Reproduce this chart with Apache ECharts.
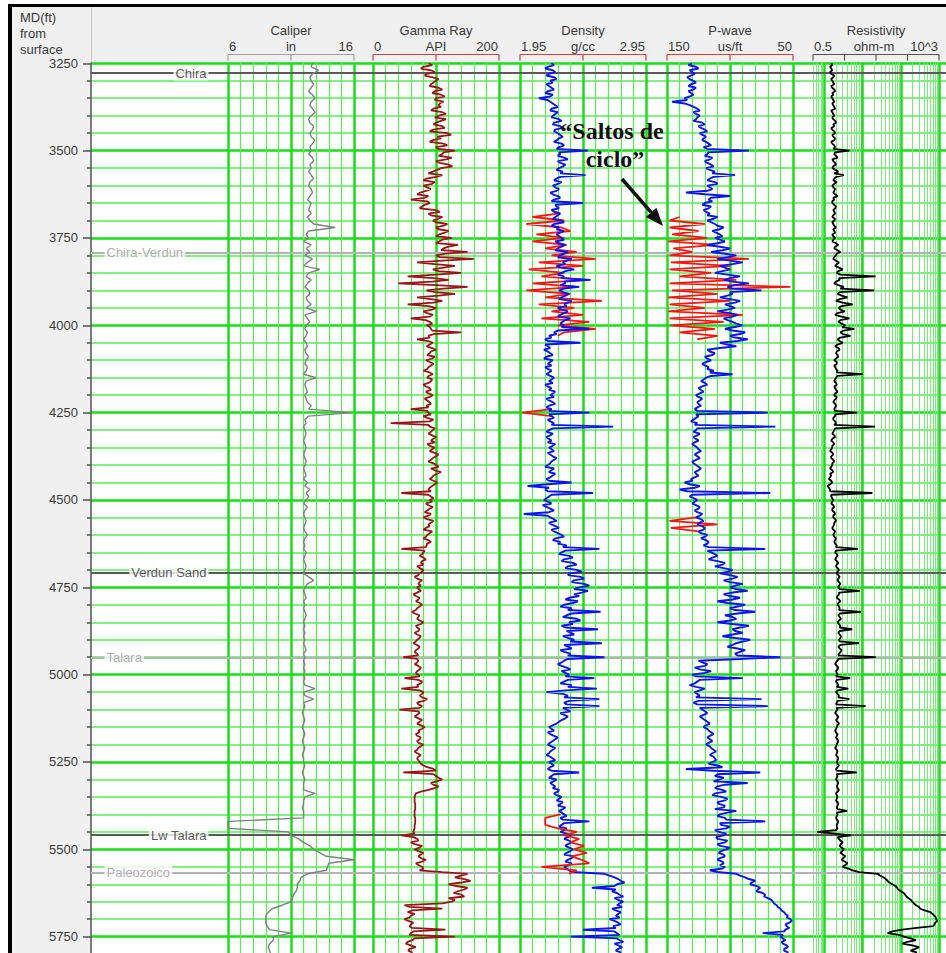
<!DOCTYPE html>
<html>
<head>
<meta charset="utf-8">
<title>Well log – MD 3250–5800 ft</title>
<script src="https://cdn.jsdelivr.net/npm/echarts@6/dist/echarts.min.js"></script>
<style>
  html, body { margin: 0; padding: 0; background: #fff; overflow: hidden; }
  /* the depth scale runs on to 6000 ft; the page shows down to ~5800 ft */
  #chart { width: 946px; height: 1024px; }
</style>
</head>
<body>
<div id="chart"></div>
<script>
// ---------------- depth sampling ----------------
const DEPTH_START = 3250;   // ft, first sample
const BLOCK_FT = 250;       // each row of a logged curve covers 250 ft
const LOG_STEP = 5;         // ft between samples of gamma / density / P-wave / resistivity
const CAL_STEP = 10;        // ft between caliper samples and raw-curve samples

// ---------------- caliper, in (every 10 ft) ----------------
const caliper = [
  12.7,12.6,13.2,12.7,12.5,12.6,12.8,12.6,12.4,12.7,12.9,12.6,12.5,12.7,12.9,12.6,12.4,12.5,12.8,12.7,12.5,12.6,12.9,12.7,12.5,
  12.6,12.4,12.7,12.8,12.5,12.6,12.4,12.6,12.8,12.5,12.4,12.6,12.7,12.5,12.3,12.6,12.5,12.4,12.6,12.3,12.5,12.8,14.5,12.4,12.2,
  12.4,12.0,12.6,12.2,12.5,12.1,12.7,12.3,12.0,13.3,12.4,12.2,12.6,12.3,12.1,12.4,12.5,12.2,12.3,12.6,12.2,13.0,12.1,12.3,12.5,
  12.2,12.1,12.3,12.2,12.0,12.2,12.3,12.1,12.2,12.4,12.2,12.1,12.3,12.2,12.0,13.0,12.2,12.1,12.2,12.3,12.1,12.2,12.3,12.6,12.4,
  15.8,12.4,12.1,12.2,12.0,12.1,12.2,12.1,12.0,12.1,12.2,12.1,12.0,12.1,12.2,12.1,12.0,12.1,12.2,12.0,12.3,12.1,12.5,12.2,12.4,
  12.2,12.0,12.3,12.1,12.0,12.1,12.2,12.1,12.0,12.1,12.3,12.1,12.0,12.1,12.0,12.2,12.1,12.0,12.1,12.2,12.1,12.0,12.4,12.8,12.3,
  12.1,12.0,12.1,12.2,12.0,12.1,12.0,12.1,12.2,12.1,12.0,12.1,12.0,12.1,12.0,12.1,12.0,12.1,12.2,12.0,12.1,12.0,12.1,12.0,12.1,
  12.0,12.1,12.0,12.1,12.9,12.0,12.1,12.8,12.0,12.1,12.0,11.9,12.0,12.1,12.0,11.9,12.0,12.1,12.0,11.9,12.0,12.1,12.0,11.9,12.0,
  12.0,12.1,12.0,11.9,12.0,12.1,12.0,12.0,12.0,12.9,12.1,12.0,12.0,11.9,12.0,12.0,12.0,6.0,6.0,6.0,10.8,11.0,11.6,12.0,12.5,
  12.8,13.3,13.8,16.0,14.0,13.9,13.8,12.3,11.8,11.7,11.5,11.5,11.4,11.2,11.1,11.0,10.3,9.5,9.2,9.0,9.0,9.0,9.1,9.3,11.0,
  9.6,9.6,9.3,9.2,9.3,9.4
];

// ---------------- gamma ray, API (rows of 250 ft, every 5 ft) ----------------
const gammaRay = [
  [88,94,80,76,92,98,86,82,95,104,100,96,92,90,104,110,98,94,108,114,100,98,112,106,104,108,96,92,110,116,104,98,116,108,100,96,110,114,96,90,118,124,102,108,95,90,112,118,100,104],
  [130,112,110,104,125,116,100,106,120,126,108,102,95,88,110,100,85,80,98,94,80,86,92,84,75,70,88,82,60,86,90,82,78,74,100,106,88,92,110,104,95,100,118,112,100,104,120,114,105,100],
  [125,110,105,100,135,120,112,108,150,115,100,106,160,110,70,98,130,112,95,104,140,100,55,96,120,94,40,100,150,112,85,98,130,104,70,92,110,96,55,88,100,94,80,86,95,90,60,84,90,94],
  [85,90,92,94,140,96,88,90,70,88,95,90,85,94,100,92,90,86,98,94,84,90,96,92,88,86,80,90,95,88,86,94,92,88,80,84,90,92,84,88,95,90,82,86,90,92,85,88,60,86],
  [88,92,80,86,96,90,28,88,90,98,95,92,88,94,100,96,92,98,86,90,98,94,90,98,104,100,95,92,88,96,100,104,92,98,108,102,96,94,90,96,102,98,94,90,88,92,45,88,92,96],
  [90,94,84,88,95,90,86,82,92,88,80,86,96,92,88,90,84,80,94,90,86,84,80,88,92,86,85,84,45,82,80,78,74,80,84,78,76,80,70,74,80,78,74,72,66,70,78,74,72,76],
  [70,72,76,70,64,68,74,72,68,74,78,74,70,68,62,66,74,72,70,74,80,76,68,70,74,72,66,70,76,74,70,68,64,70,74,72,68,66,70,72,48,70,72,70,66,72,76,74,70,68],
  [72,74,50,72,78,76,70,72,45,74,80,78,74,78,86,80,70,72,78,74,42,72,74,70,66,72,78,74,70,76,82,78,72,74,68,70,76,74,70,72,80,76,72,70,66,70,76,72,70,72],
  [74,76,80,86,96,100,48,96,100,104,110,102,92,96,104,98,88,76,68,67,66,66,66,66,67,67,67,67,66,66,66,66,67,67,67,67,66,66,66,65,64,66,45,64,70,72,60,66,78,74],
  [66,72,80,76,72,76,84,78,68,72,78,80,74,110,150,140,130,145,155,140,120,132,150,145,135,128,140,145,120,130,125,110,50,58,110,62,55,66,60,58,50,56,64,60,58,62,115,64,60,58],
  [130,66,62,55,52,60,68,58,56,62,60]
];

// ---------------- bulk density, g/cc (rows of 250 ft, every 5 ft) ----------------
const density = [
  [2.20,2.22,2.17,2.15,2.21,2.23,2.18,2.16,2.22,2.24,2.19,2.21,2.16,2.18,2.20,2.22,2.17,2.15,2.21,2.19,2.10,2.17,2.19,2.21,2.23,2.25,2.20,2.19,2.25,2.23,2.21,2.20,2.26,2.28,2.22,2.21,2.27,2.29,2.23,2.22,2.25,2.27,2.29,2.26,2.24,2.22,2.28,2.30,2.26,2.24],
  [2.49,2.26,2.27,2.25,2.30,2.33,2.25,2.27,2.31,2.29,2.26,2.24,2.29,2.27,2.47,2.27,2.24,2.22,2.28,2.25,2.21,2.23,2.26,2.24,2.19,2.21,2.25,2.27,2.22,2.20,2.45,2.23,2.24,2.26,2.20,2.22,2.27,2.25,2.23,2.21,2.28,2.30,2.22,2.20,2.26,2.24,2.30,2.27,2.24,2.26],
  [2.28,2.30,2.23,2.26,2.31,2.28,2.25,2.23,2.33,2.30,2.27,2.25,2.36,2.32,2.29,2.31,2.24,2.27,2.38,2.31,2.28,2.25,2.30,2.28,2.51,2.30,2.31,2.27,2.42,2.30,2.26,2.29,2.34,2.31,2.28,2.26,2.36,2.33,2.30,2.32,2.25,2.28,2.33,2.30,2.27,2.25,2.35,2.31,2.29,2.27],
  [2.30,2.28,2.50,2.25,2.22,2.24,2.18,2.20,2.15,2.17,2.43,2.15,2.17,2.19,2.14,2.17,2.19,2.21,2.16,2.14,2.21,2.19,2.17,2.20,2.15,2.17,2.20,2.18,2.16,2.19,2.22,2.20,2.18,2.21,2.15,2.17,2.20,2.18,2.23,2.21,2.19,2.22,2.16,2.18,2.21,2.23,2.18,2.16,2.20,2.18],
  [2.50,2.18,2.20,2.22,2.17,2.19,2.22,2.20,2.69,2.21,2.18,2.16,2.21,2.19,2.16,2.18,2.20,2.17,2.23,2.21,2.18,2.20,2.22,2.17,2.19,2.21,2.24,2.22,2.20,2.19,2.17,2.15,2.22,2.20,2.18,2.23,2.21,2.19,2.16,2.18,2.36,2.17,2.01,2.18,2.15,2.17,2.53,2.20,2.18,2.16],
  [2.14,2.17,2.20,2.13,2.16,2.19,2.22,2.18,1.98,2.17,2.19,2.22,2.24,2.18,2.20,2.23,2.26,2.20,2.22,2.25,2.28,2.30,2.23,2.21,2.27,2.25,2.32,2.29,2.58,2.31,2.28,2.26,2.34,2.37,2.30,2.28,2.37,2.40,2.33,2.31,2.40,2.44,2.35,2.33,2.43,2.46,2.38,2.36,2.46,2.50],
  [2.42,2.38,2.49,2.44,2.38,2.42,2.34,2.31,2.41,2.37,2.30,2.27,2.36,2.33,2.59,2.36,2.32,2.29,2.40,2.43,2.34,2.37,2.28,2.31,2.57,2.32,2.35,2.38,2.29,2.33,2.38,2.35,2.60,2.30,2.33,2.36,2.27,2.30,2.35,2.33,2.62,2.33,2.30,2.28,2.25,2.28,2.32,2.35,2.28,2.31],
  [2.34,2.31,2.54,2.33,2.30,2.27,2.36,2.33,2.56,2.31,2.16,2.29,2.33,2.30,2.58,2.34,2.30,2.32,2.58,2.29,2.32,2.35,2.27,2.30,2.33,2.31,2.28,2.26,2.24,2.21,2.18,2.20,2.22,2.17,2.19,2.22,2.25,2.23,2.21,2.19,2.17,2.20,2.23,2.21,2.19,2.18,2.16,2.19,2.21,2.23],
  [2.18,2.20,2.22,2.19,2.17,2.20,2.42,2.22,2.20,2.18,2.24,2.22,2.19,2.21,2.23,2.21,2.26,2.25,2.22,2.24,2.28,2.26,2.24,2.29,2.27,2.25,2.31,2.29,2.26,2.28,2.30,2.32,2.27,2.29,2.50,2.30,2.28,2.26,2.32,2.30,2.27,2.32,2.35,2.33,2.30,2.34,2.36,2.33,2.31,2.34],
  [2.37,2.35,2.32,2.30,2.38,2.36,2.33,2.31,2.36,2.34,2.30,2.32,2.34,2.36,2.62,2.66,2.70,2.73,2.75,2.78,2.72,2.70,2.52,2.71,2.68,2.72,2.74,2.77,2.70,2.73,2.77,2.74,2.72,2.76,2.68,2.71,2.75,2.73,2.71,2.74,2.66,2.70,2.73,2.75,2.69,2.71,2.45,2.70,2.72,2.74],
  [2.35,2.72,2.74,2.77,2.70,2.73,2.76,2.73,2.71,2.75,2.73]
];
// raw (uncorrected) density intervals, g/cc, every 10 ft
const densityRawA_start = 3680;
const densityRawA = [2.25,2.05,2.30,2.00,2.28,2.35,2.08,2.30,2.05,2.32,2.15,2.40,2.20,2.55,2.10,2.45,2.02,2.30,
                     2.12,2.48,2.05,2.40,2.00,2.35,2.15,2.60,2.10,2.38,2.20,2.45,2.12,2.50,2.25,2.55,2.30,2.25];
const densityRawB_start = 4240;
const densityRawB = [2.20,1.97,2.20];
const densityRawC_start = 5400;
const densityRawC = [2.27,2.15,2.15,2.15,2.25,2.40,2.30,2.42,2.35,2.46,2.38,2.48,2.36,2.44,2.50,2.12,2.40,2.34];

// ---------------- P-wave slowness, us/ft (rows of 250 ft, every 5 ft) ----------------
const pWave = [
  [130,133,127,125,132,130,128,131,134,132,129,127,131,133,127,129,133,131,129,132,136,134,146,136,132,129,126,124,129,127,124,126,127,129,122,120,125,123,120,118,124,122,119,121,122,119,117,115,121,118],
  [85,117,118,120,114,116,120,118,115,113,119,116,112,114,96,113,116,118,112,110,118,116,114,118,135,120,100,115,117,114,120,122,115,117,121,119,116,118,110,113,118,115,112,110,105,108,114,111,108,106],
  [112,108,104,110,118,108,100,106,115,104,95,102,110,100,90,98,108,104,100,106,112,102,92,100,105,98,85,96,102,98,75,100,98,102,108,100,92,96,104,100,96,102,110,100,94,98,105,102,98,95],
  [90,96,104,98,88,92,100,96,86,94,108,102,95,108,118,116,112,114,120,118,115,119,122,120,117,118,113,116,98,115,119,121,123,120,118,122,125,123,121,124,127,125,122,124,126,125,123,126,128,126],
  [70,127,125,127,129,131,126,128,64,126,127,129,124,126,129,127,125,128,130,128,126,125,123,126,128,126,124,127,130,129,127,125,123,125,128,127,125,128,131,130,136,132,124,128,140,134,68,130,132,129],
  [126,128,130,127,124,125,128,126,122,124,127,123,121,124,126,122,120,121,125,123,118,120,123,119,117,118,121,117,72,118,115,112,110,114,117,110,104,106,112,105,98,102,108,100,94,98,105,100,90,96],
  [100,95,86,98,105,100,92,98,110,102,88,94,100,96,80,94,104,98,95,100,110,98,85,92,98,96,90,98,106,96,84,90,95,98,102,94,88,92,96,94,60,92,125,122,118,120,128,124,115,120],
  [130,127,90,124,126,128,132,127,120,124,128,126,124,127,75,125,129,126,70,124,122,120,118,121,124,122,120,118,116,119,121,118,117,115,113,116,118,116,114,117,119,116,115,113,111,114,116,113,112,111],
  [114,117,110,106,135,113,76,110,112,105,108,113,86,104,110,112,106,103,112,114,107,102,104,110,109,104,105,112,95,102,108,110,104,103,72,108,107,100,103,112,109,103,105,111,110,102,104,110,108,100],
  [103,107,109,105,104,108,110,106,105,108,104,106,116,110,95,92,88,85,80,83,84,79,76,78,79,74,72,73,70,67,66,65,63,62,60,59,57,56,54,55,52,51,53,56,55,53,56,57,74,58],
  [60,58,56,59,58,55,54,57,57,54,55]
];
// raw P-wave intervals with cycle skips, us/ft, every 10 ft
const pWaveRawA_start = 3690;
const pWaveRawA = [140,148,120,148,125,146,118,149,112,145,130,148,85,147,100,148,115,140,
                   95,148,52,146,110,149,100,148,120,149,90,148,105,147,112,140,110,126];
const pWaveRawB_start = 4550;
const pWaveRawB = [127,148,110,147,125];

// ---------------- resistivity, ohm-m (rows of 250 ft, every 5 ft) ----------------
const resistivity = [
  [1.5,1.6,1.4,1.5,1.6,1.4,1.5,1.8,1.7,1.5,1.6,1.7,1.8,1.5,1.6,1.8,1.9,1.6,1.7,1.5,1.6,1.7,1.8,1.6,1.7,1.8,1.9,1.5,1.6,1.7,1.8,1.6,1.7,1.9,2.0,1.7,1.8,1.5,1.6,1.8,1.9,1.6,1.7,1.9,1.8,1.5,1.6,1.8,1.9,1.7],
  [4.5,1.9,1.8,2.0,2.2,1.6,1.7,1.9,2.0,1.7,1.6,1.9,2.3,1.8,3.2,2.0,1.8,1.7,2.1,1.8,1.6,1.7,1.9,1.8,1.7,1.9,2.2,1.7,1.8,1.6,1.6,1.8,2.0,1.9,1.7,1.8,1.9,1.7,1.6,1.9,1.8,1.6,1.7,1.8,2.0,1.7,1.8,1.9,1.6,1.7],
  [1.9,1.7,1.6,2.0,2.3,1.9,1.8,2.2,2.6,2.1,2.0,1.8,1.7,2.0,2.4,2.1,1.9,2.4,3.0,2.3,2.1,2.6,22,2.4,2.5,2.0,1.8,2.3,3.2,2.6,20,2.5,2.2,2.8,4.0,2.5,2.0,3.0,5.5,2.8,2.4,2.6,3.4,2.2,1.9,2.8,4.5,2.6,2.3,2.8],
  [3.5,2.9,6.0,3.2,2.6,3.0,4.8,2.6,2.2,2.5,3.0,2.2,1.9,2.3,2.5,2.1,2.0,2.2,2.3,2.0,1.8,2.1,2.1,1.8,1.9,2.0,2.2,2.1,10,2.2,2.0,1.9,1.8,2.0,2.1,1.8,1.9,2.0,2.2,1.9,1.8,2.1,2.0,1.8,1.7,1.9,2.0,1.9,1.8,1.9],
  [7.1,1.9,1.9,1.7,1.7,1.9,2.0,1.8,21,1.9,1.8,1.7,1.6,1.8,1.9,1.6,1.5,1.7,1.8,1.6,1.6,1.5,1.4,1.6,1.7,1.5,1.5,1.7,1.8,1.6,1.6,1.5,1.4,1.6,1.7,1.4,1.5,1.4,1.3,1.5,1.6,1.4,1.2,1.3,1.4,1.4,18,1.5,1.5,1.6],
  [1.7,1.6,1.5,1.7,1.8,1.6,1.6,1.8,1.9,1.7,1.7,1.9,2.0,1.8,1.8,1.7,1.6,1.7,1.9,1.8,1.7,1.8,2.0,1.9,1.8,1.9,2.1,2.0,7.5,2.0,1.9,2.1,2.2,2.0,1.9,2.1,2.3,2.1,2.0,2.2,2.4,2.2,2.1,2.3,2.5,2.3,2.2,2.4,2.6,2.4],
  [2.3,2.5,8.5,2.4,2.4,2.2,2.1,2.4,2.6,2.3,2.2,2.4,2.5,2.4,9.0,2.5,2.3,2.5,2.7,2.4,2.2,2.4,2.6,2.5,5.3,2.5,2.3,2.5,2.7,2.6,2.4,2.5,8.0,2.6,2.3,2.5,2.8,2.6,2.4,2.3,22,2.3,2.2,2.0,1.9,2.1,2.3,2.2,2.0,2.1],
  [2.2,2.0,4.7,2.1,2.0,2.2,2.3,2.1,4.2,2.2,2.0,2.2,2.4,2.3,4.5,2.2,2.1,2.0,12,2.1,2.2,2.0,1.9,2.1,2.3,2.2,2.0,2.2,2.4,2.2,2.1,2.0,1.9,2.0,2.2,2.1,2.0,2.2,2.3,2.2,2.1,2.0,1.9,2.1,2.2,2.1,2.0,2.2,2.3,2.2],
  [2.1,2.2,2.4,2.2,2.0,2.1,7.0,2.1,2.2,2.1,2.0,2.2,2.3,2.2,2.1,2.2,2.4,2.2,2.0,2.1,2.2,2.1,2.0,2.2,2.3,2.2,2.1,2.2,3.9,2.1,2.2,2.1,2.0,2.1,2.3,2.2,2.1,2.1,2.2,2.0,0.65,1.9,5.0,2.2,2.4,2.6,3.0,2.7,2.5,2.8],
  [3.2,2.9,2.6,3.0,3.5,3.1,2.8,3.4,4.0,3.5,3.0,4.2,5.5,8,25,28,35,40,45,50,60,72,80,85,100,120,130,140,160,185,200,220,250,300,320,420,600,680,750,820,850,900,800,760,700,260,110,60,45,90],
  [120,180,250,150,110,200,300,240,180,260,220]
];

// ---------------- formation tops ----------------
const topNames  = ['Chira', 'Chira-Verdun', 'Verdun Sand', 'Talara', 'Lw Talara', 'Paleozoico'];
const topDepths = [3278, 3793, 4708, 4951, 5459, 5567];
const topIsMain = [true, false, true, false, true, false];

// ---------------- track scales / header text ----------------
const trackTitles = ['Caliper', 'Gamma Ray', 'Density', 'P-wave', 'Resistivity'];
const trackUnits  = ['in', 'API', 'g/cc', 'us/ft', 'ohm-m'];
const trackLeftValues  = [6, 0, 1.95, 150, 0.5];
const trackRightValues = [16, 200, 2.95, 50, 1000];
const trackLeftLabels  = ['6', '0', '1.95', '150', '0.5'];
const trackRightLabels = ['16', '200', '2.95', '50', '10^3'];
const depthHeader = ['MD(ft)', 'from', 'surface'];
const noteText = ['\u201CSaltos de', 'ciclo\u201D'];

// ---------------- layout ----------------
const FONT = '"Liberation Sans", Arial, sans-serif';
const GRID_TOP = 63.3;
const GRID_BOTTOM = 0;
const TRACK_LEFT = [228, 373, 520, 667, 813];
const TRACK_WIDTH = 126;
const GREEN_MAJOR = '#19de19';
const GREEN_MINOR = '#5de85d';
const GREEN_LOG = '#78ec78';
const BRACKET_COLORS = ['#a0a0a0', '#c84040', '#e03a3a', '#e03a3a', '#555555'];

// flat list sampled every `step` ft from `start`
const toPairs = (values, start, step) => values.map((v, i) => [v, start + i * step]);
// rows of BLOCK_FT, each sampled every LOG_STEP ft
const rowsToPairs = rows => rows.flatMap((row, b) =>
  row.map((v, i) => [v, DEPTH_START + b * BLOCK_FT + i * LOG_STEP]));

function linearGridValues(a, b) {
  const lo = Math.min(a, b), hi = Math.max(a, b), out = [];
  for (let k = 0; k <= 10; k++) out.push({ v: lo + (hi - lo) * k / 10, major: k % 5 === 0 });
  return out;
}
function logGridValues(lo, hi) {
  const out = [];
  for (let e = -1; e <= 3; e++) {
    for (let m = 1; m <= 9; m++) {
      const v = +(m * Math.pow(10, e)).toPrecision(6);
      if (v >= lo - 1e-9 && v <= hi + 1e-9) out.push({ v, major: m === 1 });
    }
  }
  return out;
}

const grids = [{ left: 91, right: 0, top: GRID_TOP, bottom: GRID_BOTTOM }]
  .concat(TRACK_LEFT.map(l => ({ left: l, width: TRACK_WIDTH, top: GRID_TOP, bottom: GRID_BOTTOM })));

const xAxes = [
  { gridIndex: 0, type: 'value', min: 0, max: 1, show: false },
  { gridIndex: 1, type: 'value', min: 6, max: 16, show: false },
  { gridIndex: 2, type: 'value', min: 0, max: 200, show: false },
  { gridIndex: 3, type: 'value', min: 1.95, max: 2.95, show: false },
  { gridIndex: 4, type: 'value', min: 50, max: 150, inverse: true, show: false },
  { gridIndex: 5, type: 'log', logBase: 10, min: 0.5, max: 1000, show: false }
];

const yAxes = [{
  gridIndex: 0, type: 'value', inverse: true, min: 3250, max: 6000, interval: 250,
  axisLine: { show: true, lineStyle: { color: '#555', width: 1.5 } },
  axisTick: { show: true, length: 8, lineStyle: { color: '#555', width: 1.5 } },
  minorTick: { show: true, splitNumber: 5, length: 4, lineStyle: { color: '#555', width: 1.5 } },
  axisLabel: { show: true, margin: 13, color: '#3a3a3a', fontSize: 13, fontFamily: FONT,
               showMaxLabel: false, formatter: v => (v > 5800 ? '' : String(v)) },
  splitLine: { show: true, lineStyle: { color: GREEN_MAJOR, width: 2.5 } },
  minorSplitLine: { show: true, lineStyle: { color: GREEN_MINOR, width: 1.5 } }
}].concat([1, 2, 3, 4, 5].map(g => ({
  gridIndex: g, type: 'value', inverse: true, min: 3250, max: 6000, show: false
})));

const series = [];

// vertical grid lines of each track
[
  linearGridValues(6, 16), linearGridValues(0, 200), linearGridValues(1.95, 2.95),
  linearGridValues(50, 150), logGridValues(0.5, 1000)
].forEach((vals, i) => {
  const isLog = i === 4;
  series.push({
    type: 'line', xAxisIndex: i + 1, yAxisIndex: i + 1, data: [], z: 1, silent: true,
    markLine: {
      silent: true, symbol: ['none', 'none'], label: { show: false }, z: 1, animation: false,
      data: vals.map(g => ({
        xAxis: g.v,
        lineStyle: {
          type: 'solid',
          color: g.major ? GREEN_MAJOR : (isLog ? GREEN_LOG : GREEN_MINOR),
          width: g.major ? 2.5 : (isLog ? 1 : 1.3)
        }
      }))
    }
  });
});

// formation top lines across the whole panel
series.push({
  type: 'line', xAxisIndex: 0, yAxisIndex: 0, data: [], z: 2, silent: true,
  markLine: {
    silent: true, symbol: ['none', 'none'], label: { show: false }, z: 2, animation: false,
    data: topDepths.map((d, i) => ({
      yAxis: d,
      lineStyle: { type: 'solid', width: 2, color: topIsMain[i] ? '#5a5a5a' : '#b4b4b4' }
    }))
  }
});

// curves
const curve = (xi, data, color, width, z) => ({
  type: 'line', xAxisIndex: xi, yAxisIndex: xi, data, symbol: 'none', silent: true,
  lineStyle: { color, width }, z, clip: true, animation: false
});
series.push(curve(1, toPairs(caliper, DEPTH_START, CAL_STEP), '#808080', 1.4, 3));
series.push(curve(2, rowsToPairs(gammaRay), '#9c1418', 1.8, 3));
series.push(curve(3, toPairs(densityRawA, densityRawA_start, CAL_STEP), '#ff1414', 1.8, 3));
series.push(curve(3, toPairs(densityRawB, densityRawB_start, CAL_STEP), '#ff1414', 1.8, 3));
series.push(curve(3, rowsToPairs(density), '#0a14f0', 1.9, 4));
series.push(curve(3, toPairs(densityRawC, densityRawC_start, CAL_STEP), '#ff1414', 1.8, 5));
series.push(curve(4, toPairs(pWaveRawA, pWaveRawA_start, CAL_STEP), '#ff1414', 1.8, 3));
series.push(curve(4, toPairs(pWaveRawB, pWaveRawB_start, CAL_STEP), '#ff1414', 1.8, 3));
series.push(curve(4, rowsToPairs(pWave), '#0a14f0', 1.9, 4));
series.push(curve(5, rowsToPairs(resistivity), '#000000', 1.8, 3));

// formation names on the depth track
const LABEL_MAIN_X = (209 - 91) / 855;   // right edge of dark labels
const LABEL_SUB_X = (104 - 91) / 855;    // left edge of light labels
series.push({
  type: 'scatter', xAxisIndex: 0, yAxisIndex: 0, z: 6, silent: true, symbolSize: 1,
  itemStyle: { color: 'rgba(0,0,0,0)' },
  data: topDepths.map((d, i) => ({
    value: [topIsMain[i] ? LABEL_MAIN_X : LABEL_SUB_X, d],
    label: {
      show: true, formatter: topNames[i],
      position: topIsMain[i] ? 'left' : 'right', distance: 0,
      color: topIsMain[i] ? '#2e2e2e' : '#9a9a9a',
      fontSize: 13, fontFamily: FONT,
      backgroundColor: '#ffffff', padding: [1, 2]
    }
  }))
});

const chart = echarts.init(document.getElementById('chart'), null, { renderer: 'svg' });
chart.setOption({
  backgroundColor: '#ffffff',
  animation: false,
  grid: grids,
  xAxis: xAxes,
  yAxis: yAxes,
  series
});

// ---------------- header, frame and note ----------------
const g = [];
g.push({ type: 'rect', z: -10, shape: { x: 12, y: 7, width: 934, height: 56.3 }, style: { fill: '#f0f0f0' } });
g.push({ type: 'rect', z: -10, shape: { x: 12, y: 63, width: 79, height: 961 }, style: { fill: '#f0f0f0' } });
g.push({ type: 'line', z: -5, shape: { x1: 91.5, y1: 7, x2: 91.5, y2: 63 }, style: { stroke: '#c8c8c8', lineWidth: 1 } });
g.push({ type: 'rect', z: 30, shape: { x: 8, y: 4, width: 938, height: 3 }, style: { fill: '#000' } });
g.push({ type: 'rect', z: 30, shape: { x: 8, y: 4, width: 4, height: 1020 }, style: { fill: '#000' } });

const txt = (x, y, text, align, extra) => Object.assign({
  type: 'text', z: 20, x, y,
  style: Object.assign({
    text, fill: '#3a3a3a', fontSize: 13, fontFamily: FONT,
    align, verticalAlign: 'middle', textAlign: align, textVerticalAlign: 'middle'
  }, extra || {})
});

depthHeader.forEach((s, i) => g.push(txt(20, 17 + 16 * i, s, 'left')));

const BRACKET_Y = 54.5, TITLE_Y = 30.5, SCALE_Y = 46.5;
trackTitles.forEach((title, i) => {
  const xl = chart.convertToPixel({ xAxisIndex: i + 1 }, trackLeftValues[i]);
  const xr = chart.convertToPixel({ xAxisIndex: i + 1 }, trackRightValues[i]);
  const xm = (xl + xr) / 2;
  g.push(txt(xm, TITLE_Y, title, 'center'));
  g.push(txt(xm - (i === 4 ? 2 : 0), SCALE_Y, trackUnits[i], 'center'));
  g.push(txt(xl + 1, SCALE_Y, trackLeftLabels[i], 'left'));
  g.push(txt(xr - 1, SCALE_Y, trackRightLabels[i], 'right'));
  const parts = i === 4 ? 4 : 2;
  for (let k = 0; k <= parts; k++) {
    const x = xl + (xr - xl) * k / parts;
    g.push({ type: 'line', z: 20, shape: { x1: x, y1: BRACKET_Y, x2: x, y2: BRACKET_Y + 6 },
             style: { stroke: BRACKET_COLORS[i], lineWidth: 1.2 } });
  }
  g.push({ type: 'line', z: 20, shape: { x1: xl, y1: BRACKET_Y, x2: xr, y2: BRACKET_Y },
           style: { stroke: BRACKET_COLORS[i], lineWidth: 1.2 } });
});

// "cycle skip" note with arrow
const NOTE_FONT = { fontSize: 24, fontWeight: 'bold', fontFamily: '"Liberation Serif", "Times New Roman", serif', fill: '#111' };
g.push(txt(612, 131, noteText[0], 'center', NOTE_FONT));
g.push(txt(615, 159, noteText[1], 'center', NOTE_FONT));
(function arrow(x1, y1, x2, y2) {
  const dx = x2 - x1, dy = y2 - y1, len = Math.hypot(dx, dy);
  const ux = dx / len, uy = dy / len, head = 18, half = 7;
  const bx = x2 - ux * head, by = y2 - uy * head;
  g.push({ type: 'line', z: 25, shape: { x1, y1, x2: bx, y2: by }, style: { stroke: '#111', lineWidth: 3.5 } });
  g.push({ type: 'polygon', z: 25, shape: { points: [[x2, y2], [bx - uy * half, by + ux * half], [bx + uy * half, by - ux * half]] },
           style: { fill: '#111' } });
})(622, 179, 663, 226);

chart.setOption({ graphic: g });
</script>
</body>
</html>
